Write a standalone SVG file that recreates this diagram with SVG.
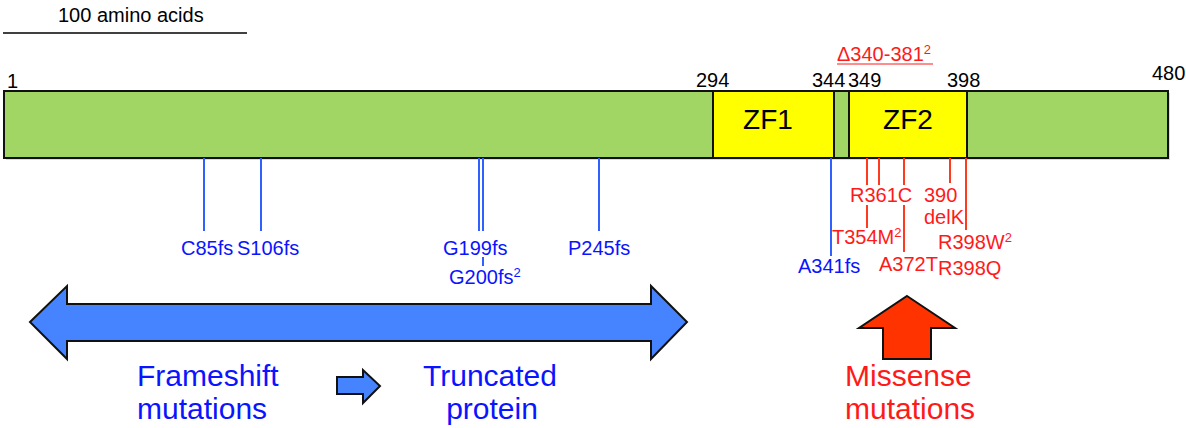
<svg xmlns="http://www.w3.org/2000/svg" width="1186" height="428" viewBox="0 0 1186 428">
<style>
text{font-family:"Liberation Sans",Arial,sans-serif;}
.num{font-size:20px;fill:#000;}
.blu{font-size:20px;fill:#0a14ff;}
.red{font-size:20px;fill:#ff1a1a;}
.sup{font-size:13px;}
.big{font-size:30px;}
.zf{font-size:28px;fill:#000;text-anchor:middle;}
.bl{stroke:#3060ff;stroke-width:2;}
.rl{stroke:#ff3b1f;stroke-width:2;}
.dom{stroke:#111;stroke-width:2;}
</style>
<rect width="1186" height="428" fill="#fff"/>
<g id="scale">
<line x1="3" y1="33" x2="247" y2="33" stroke="#000" stroke-width="1.5"/>
<text class="num" x="58" y="22">100 amino acids</text>
</g>
<g id="protein">
<rect x="6" y="93" width="1164" height="67" fill="#999" opacity="0.35"/>
<rect class="dom" x="4" y="91" width="1164" height="67" fill="#a1d564"/>
<text class="num" x="7" y="88">1</text>
<text class="num" x="1152" y="80">480</text>
</g>
<g id="zf1">
<rect class="dom" x="713" y="91" width="121" height="67" fill="#ffff00"/>
<text class="zf" x="768" y="129">ZF1</text>
<text class="num" x="696" y="87">294</text>
<text class="num" x="812" y="87">344</text>
</g>
<g id="zf2">
<rect class="dom" x="849" y="91" width="118" height="67" fill="#ffff00"/>
<text class="zf" x="908" y="129">ZF2</text>
<text class="num" x="848" y="87">349</text>
<text class="num" x="947" y="87">398</text>
</g>
<g id="deletion">
<text class="red" x="837" y="61">Δ340-381<tspan class="sup" dy="-7">2</tspan></text>
<line x1="837" y1="64" x2="933" y2="64" stroke="#ff1a1a" stroke-width="1.2"/>
</g>
<g id="connectors">
<line class="bl" x1="204" y1="158" x2="204" y2="231"/>
<line class="bl" x1="261" y1="158" x2="261" y2="231"/>
<line class="bl" x1="479" y1="158" x2="479" y2="231"/>
<line class="bl" x1="483" y1="158" x2="483" y2="231"/>
<line class="bl" x1="483" y1="257" x2="483" y2="266"/>
<line class="bl" x1="599" y1="158" x2="599" y2="231"/>
<line class="bl" x1="831" y1="158" x2="831" y2="256"/>
<line class="rl" x1="867" y1="158" x2="867" y2="185"/>
<line class="rl" x1="867" y1="205" x2="867" y2="228"/>
<line class="rl" x1="879" y1="158" x2="879" y2="185"/>
<line class="rl" x1="904" y1="158" x2="904" y2="185"/>
<line class="rl" x1="904" y1="205" x2="904" y2="252"/>
<line class="rl" x1="950" y1="158" x2="950" y2="183"/>
<line class="rl" x1="966" y1="158" x2="966" y2="230"/>
</g>
<g id="frameshift-labels">
<text class="blu" x="181" y="255">C85fs</text>
<text class="blu" x="237" y="255">S106fs</text>
<text class="blu" x="443" y="255">G199fs</text>
<text class="blu" x="449" y="284">G200fs<tspan class="sup" dy="-7">2</tspan></text>
<text class="blu" x="568" y="255">P245fs</text>
<text class="blu" x="798" y="273">A341fs</text>
</g>
<g id="missense-labels">
<text class="red" x="850" y="202">R361C</text>
<text class="red" x="924" y="202">390</text>
<text class="red" x="924" y="224">delK</text>
<text class="red" x="832" y="244">T354M<tspan class="sup" dy="-7">2</tspan></text>
<text class="red" x="879" y="271">A372T</text>
<text class="red" x="938" y="249">R398W<tspan class="sup" dy="-7">2</tspan></text>
<text class="red" x="938" y="275">R398Q</text>
</g>
<g id="frameshift-arrow">
<polygon points="30,322 67,286 67,304 651,304 651,286 687,322 651,359 651,341 67,341 67,359" fill="#4684ff" stroke="#111" stroke-width="2" stroke-linejoin="miter"/>
</g>
<g id="frameshift-text">
<text class="blu big" x="137" y="386">Frameshift</text>
<text class="blu big" x="137" y="419">mutations</text>
</g>
<g id="small-arrow">
<polygon points="337,377 363,377 363,370 380,386 363,403 363,394 337,394" fill="#4684ff" stroke="#111" stroke-width="2"/>
</g>
<g id="truncated-text">
<text class="blu big" x="490" y="386" text-anchor="middle">Truncated</text>
<text class="blu big" x="492" y="419" text-anchor="middle">protein</text>
</g>
<g id="missense-arrow">
<polygon points="907,296 955,328 931,328 931,359 883,359 883,328 859,328" fill="#ff3300" stroke="#111" stroke-width="2"/>
</g>
<g id="missense-text">
<text class="red big" x="845" y="386">Missense</text>
<text class="red big" x="845" y="419">mutations</text>
</g>
</svg>
